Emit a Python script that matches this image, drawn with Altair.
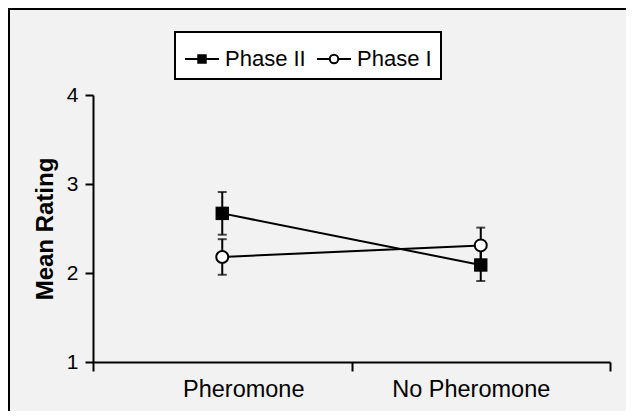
import altair as alt
import pandas as pd

conditions = ["Pheromone", "No Pheromone", "Pheromone", "No Pheromone"]
phases = ["Phase II", "Phase II", "Phase I", "Phase I"]
means = [2.67, 2.09, 2.18, 2.31]
errors = [0.24, 0.18, 0.20, 0.20]
cond_order = ["Pheromone", "No Pheromone"]
phase_order = ["Phase II", "Phase I"]
y_ticks = [1, 2, 3, 4]

df = pd.DataFrame({"cond": conditions, "phase": phases, "mean": means, "err": errors})
df["lo"] = df["mean"] - df["err"]
df["hi"] = df["mean"] + df["err"]

FONT = "Liberation Sans"
W, H = 517, 267

x_enc = alt.X("cond:N", sort=cond_order, title=None,
              scale=alt.Scale(domain=cond_order, paddingInner=0, paddingOuter=0),
              axis=alt.Axis(labelAngle=0, tickBand="extent", tickSize=9, tickWidth=2,
                            tickColor="black", domainColor="black", domainWidth=2,
                            labelFontSize=23.5, labelFont=FONT, labelColor="black",
                            labelPadding=6,
                            labelOffset={"condition": {"test": "datum.value == 'Pheromone'",
                                                       "value": 21}, "value": -10}))
y_scale = alt.Scale(domain=[1, 4], nice=False, zero=False)
y_axis = alt.Axis(values=y_ticks, format="d", grid=False, tickSize=8, tickWidth=2,
                  tickColor="black", domainColor="black", domainWidth=2, labelFontSize=21,
                  labelFont=FONT, labelColor="black", labelPadding=7, title="Mean Rating",
                  titleFont=FONT, titleFontSize=24, titleFontWeight="bold",
                  titleColor="black", titlePadding=9)

base = alt.Chart(df)

lines = base.mark_line(color="black", strokeWidth=2).encode(
    x=x_enc, y=alt.Y("mean:Q", scale=y_scale, axis=y_axis), detail="phase:N")

rules = base.mark_rule(color="black", strokeWidth=2).encode(
    x=alt.X("cond:N", sort=cond_order), y="lo:Q", y2="hi:Q")

caps_lo = base.mark_tick(color="black", thickness=2, size=9).encode(
    x=alt.X("cond:N", sort=cond_order), y="lo:Q")
caps_hi = base.mark_tick(color="black", thickness=2, size=9).encode(
    x=alt.X("cond:N", sort=cond_order), y="hi:Q")

squares = base.transform_filter(alt.datum.phase == "Phase II").mark_point(
    shape="square", filled=True, color="black", size=180, opacity=1).encode(
    x=alt.X("cond:N", sort=cond_order), y="mean:Q")
circles = base.transform_filter(alt.datum.phase == "Phase I").mark_point(
    shape="circle", fill="white", stroke="black", strokeWidth=2, size=144, opacity=1).encode(
    x=alt.X("cond:N", sort=cond_order), y="mean:Q")

sq_path = "M-1,0H1M-0.22,-0.22H0.22V0.22H-0.22Z"
ci_path = ("M-1,0H-0.25M0.25,0H1M-0.25,0A0.25,0.25 0 1,1 0.25,0"
           "A0.25,0.25 0 1,1 -0.25,0Z")
leg = alt.Legend(title=None, orient="none", legendX=82, legendY=-63, direction="horizontal",
                 strokeColor="black", fillColor="white", padding=9,
                 symbolSize=1156, symbolStrokeWidth=2, symbolStrokeColor="black",
                 labelFont=FONT, labelFontSize=22, labelColor="black", labelOffset=5,
                 columnPadding=7, symbolOpacity=1)
legend_layer = base.transform_filter("false").mark_point(
    strokeWidth=2, opacity=1, size=1156).encode(
    shape=alt.Shape("phase:N", scale=alt.Scale(domain=phase_order, range=[sq_path, ci_path]),
                    legend=leg),
    fill=alt.Fill("phase:N", scale=alt.Scale(domain=phase_order, range=["black", "white"]),
                  legend=leg),
    stroke=alt.Stroke("phase:N", scale=alt.Scale(domain=phase_order, range=["black", "black"]),
                      legend=leg))

frame = alt.Chart(pd.DataFrame({"k": [0]})).mark_rect(
    fill="transparent", stroke="black", strokeWidth=2).encode(
    x=alt.value(-84), x2=alt.value(W + 60), y=alt.value(-86), y2=alt.value(H + 70))

chart = alt.layer(lines, rules, caps_lo, caps_hi, squares, circles, legend_layer, frame).properties(
    width=W, height=H,
    autosize=alt.AutoSizeParams(type="none"),
    padding={"left": 85, "top": 87, "right": 16, "bottom": 49},
    background="#f2f2f2",
).configure_view(fill="white", strokeWidth=0).configure_legend(strokeWidth=2)

chart.save("out.html", embed_options={"renderer": "svg", "actions": False})
